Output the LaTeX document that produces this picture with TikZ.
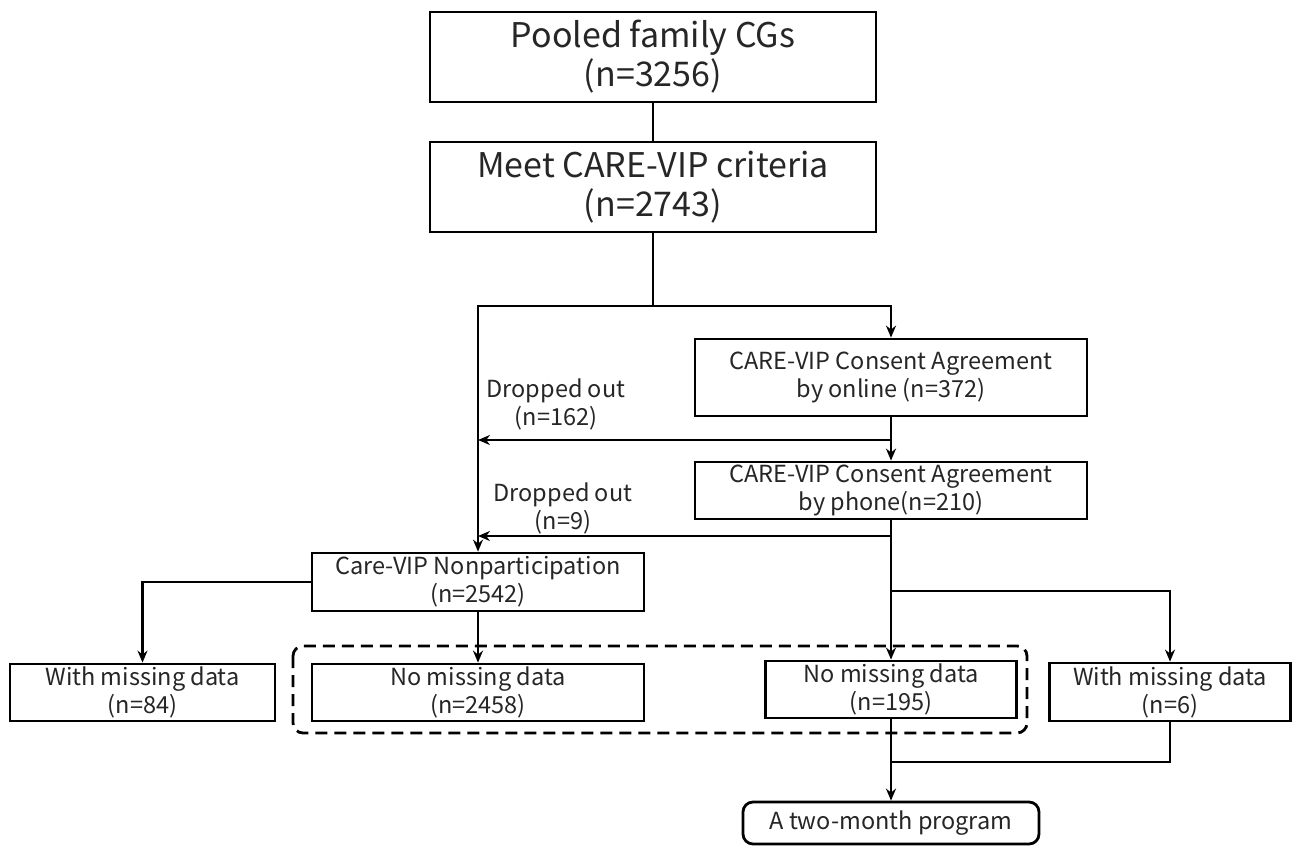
\documentclass[tikz,border=0pt]{standalone}
\usepackage{fontspec}
\setmainfont{Noto Sans CJK JP}
\usetikzlibrary{arrows.meta}
\begin{document}
\begin{tikzpicture}[x=1pt,y=-1pt,
  box/.style={draw,line width=2.8pt,inner sep=0pt,align=center,text=black!85},
  bigbox/.style={box,minimum width=446pt,minimum height=90pt,font=\fontsize{34}{39}\selectfont},
  smallbox/.style={box,font=\fontsize{23.5}{28}\selectfont},
  lbl/.style={align=center,inner sep=0pt,text=black!85,font=\fontsize{23.5}{28}\selectfont},
  ln/.style={line width=2.8pt},
  arr/.style={ln,-{Stealth[length=12pt,width=10pt]}}]
\useasboundingbox (0,0) rectangle (1292,846);
\fill[white] (0,0) rectangle (1292,846);
% dashed group
\draw[line width=2.8pt,dash pattern=on 12pt off 7pt,rounded corners=10pt] (293,646) rectangle (1027,733);
% nodes
\node[bigbox] (b1) at (653,57) {Pooled family CGs\\(n=3256)};
\node[bigbox] (b2) at (653,187) {Meet CARE-VIP criteria\\(n=2743)};
\node[smallbox,minimum width=392pt,minimum height=77pt] (b3) at (891,377.5) {CARE-VIP Consent Agreement\\by online (n=372)};
\node[smallbox,minimum width=392pt,minimum height=57pt] (b4) at (891,490.5) {CARE-VIP Consent Agreement\\by phone(n=210)};
\node[smallbox,minimum width=332pt,minimum height=58pt] (b5) at (478,582) {Care-VIP Nonparticipation\\(n=2542)};
\node[smallbox,minimum width=265pt,minimum height=57pt] (b6) at (142.5,692.5) {With missing data\\(n=84)};
\node[smallbox,minimum width=332pt,minimum height=57pt] (b7) at (478,692.5) {No missing data\\(n=2458)};
\node[smallbox,minimum width=251pt,minimum height=57pt] (b8) at (891,689.5) {No missing data\\(n=195)};
\node[smallbox,minimum width=241pt,minimum height=58pt] (b9) at (1170,692) {With missing data\\(n=6)};
\node[smallbox,rounded corners=10pt,minimum width=296pt,minimum height=42pt] (b10) at (891,823) {A two-month program};
\node[lbl] (t1) at (556,404) {Dropped out\\(n=162)};
\node[lbl] (t2) at (563,508) {Dropped out\\(n=9)};
% junctions
\coordinate (j1) at (653,306);
\coordinate (d1) at (891,440);
\coordinate (d1e) at (478,440);
\coordinate (d2) at (891,536);
\coordinate (d2e) at (478,536);
\coordinate (j2) at (891,591);
\coordinate (j3) at (891,762);
% connectors
\draw[ln] (b1.south) -- (b2.north);
\draw[ln] (b2.south) -- (j1);
\draw[arr] (j1) -| (b3.north);
\draw[arr] (j1) -| (b5.north);
\draw[arr] (b3.south) -- (b4.north);
\draw[arr] (d1) -- (d1e);
\draw[arr] (b4.south) -- (b8.north);
\draw[arr] (d2) -- (d2e);
\draw[arr] (j2) -| (b9.north);
\draw[arr] (b5.west) -| (b6.north);
\draw[arr] (b5.south) -- (b7.north);
\draw[arr] (b8.south) -- (b10.north);
\draw[ln] (b9.south) |- (j3);
\end{tikzpicture}
\end{document}
